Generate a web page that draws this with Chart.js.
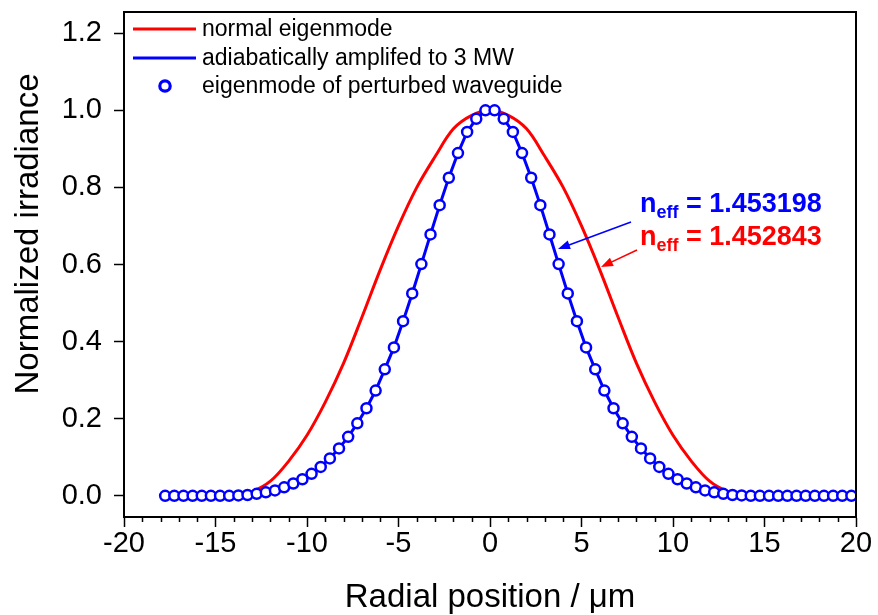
<!DOCTYPE html>
<html lang="en">
<head>
<meta charset="UTF-8">
<title>Mode profiles</title>
<style>
    html, body { margin: 0; padding: 0; background: #fff; }
    #wrap { width: 878px; height: 615px; }
</style>
</head>
<body>
<div id="wrap"><canvas id="myChart" width="878" height="615"></canvas></div>
<script src="https://cdn.jsdelivr.net/npm/chart.js"></script>
<script>
// normal eigenmode (red line)
const redX = [-18, -17, -16, -15, -14, -13, -12, -11, -10, -9, -8, -7, -6, -5, -4, -3, -2, -1, 0,
              1, 2, 3, 4, 5, 6, 7, 8, 9, 10, 11, 12, 13, 14, 15, 16, 17, 18, 19, 20];
const redY = [0, 0, 0, 0, 0, 0.011, 0.038, 0.09, 0.157, 0.243, 0.344, 0.463, 0.586, 0.70, 0.80, 0.88, 0.952, 0.987, 1.0,
              0.987, 0.952, 0.88, 0.80, 0.70, 0.586, 0.463, 0.344, 0.243, 0.157, 0.09, 0.038, 0.011, 0, 0, 0, 0, 0, 0, 0];

// amplified mode (blue line) and perturbed waveguide eigenmode (circles)
const blueX = [-17.75, -17.25, -16.75, -16.25, -15.75, -15.25, -14.75, -14.25, -13.75, -13.25,
               -12.75, -12.25, -11.75, -11.25, -10.75, -10.25, -9.75, -9.25, -8.75, -8.25,
               -7.75, -7.25, -6.75, -6.25, -5.75, -5.25, -4.75, -4.25, -3.75, -3.25,
               -2.75, -2.25, -1.75, -1.25, -0.75, -0.25, 0.25, 0.75, 1.25, 1.75,
               2.25, 2.75, 3.25, 3.75, 4.25, 4.75, 5.25, 5.75, 6.25, 6.75,
               7.25, 7.75, 8.25, 8.75, 9.25, 9.75, 10.25, 10.75, 11.25, 11.75,
               12.25, 12.75, 13.25, 13.75, 14.25, 14.75, 15.25, 15.75, 16.25, 16.75,
               17.25, 17.75, 18.25, 18.75, 19.25, 19.75];
const blueY = [0, 0, 0, 0, 0, 0, 0, 0, 0.001, 0.002,
               0.005, 0.009, 0.014, 0.022, 0.032, 0.043, 0.057, 0.075, 0.097, 0.123,
               0.153, 0.188, 0.227, 0.273, 0.328, 0.385, 0.453, 0.525, 0.601, 0.678,
               0.754, 0.825, 0.889, 0.944, 0.978, 1.0, 1.0, 0.978, 0.944, 0.889,
               0.825, 0.754, 0.678, 0.601, 0.525, 0.453, 0.385, 0.328, 0.273, 0.227,
               0.188, 0.153, 0.123, 0.097, 0.075, 0.057, 0.043, 0.032, 0.022, 0.014,
               0.009, 0.005, 0.002, 0.001, 0, 0, 0, 0, 0, 0,
               0, 0, 0, 0, 0, 0];

const xTicks = [-20, -15, -10, -5, 0, 5, 10, 15, 20];
const yTicks = [0, 0.2, 0.4, 0.6, 0.8, 1.0, 1.2];
const seriesNames = ['normal eigenmode', 'adiabatically amplifed to 3 MW', 'eigenmode of perturbed waveguide'];
const neffLabels = ['= 1.453198', '= 1.452843'];

const FONT = "Arial, 'Liberation Sans', sans-serif";
const RED = '#ff0000';
const BLUE = '#0000ff';

function pts(xs, ys) {
    return xs.map((x, i) => ({ x: x, y: ys[i] }));
}

function arrow(ctx, x1, y1, x2, y2, color) {
    const ang = Math.atan2(y2 - y1, x2 - x1);
    const len = 12, half = 4.5;
    ctx.strokeStyle = color;
    ctx.fillStyle = color;
    ctx.lineWidth = 1.6;
    ctx.beginPath();
    ctx.moveTo(x1, y1);
    ctx.lineTo(x2 - Math.cos(ang) * len * 0.8, y2 - Math.sin(ang) * len * 0.8);
    ctx.stroke();
    ctx.beginPath();
    ctx.moveTo(x2, y2);
    ctx.lineTo(x2 - Math.cos(ang) * len - Math.sin(ang) * half, y2 - Math.sin(ang) * len + Math.cos(ang) * half);
    ctx.lineTo(x2 - Math.cos(ang) * len + Math.sin(ang) * half, y2 - Math.sin(ang) * len - Math.cos(ang) * half);
    ctx.closePath();
    ctx.fill();
}

function neff(ctx, x, y, rest, color) {
    ctx.fillStyle = color;
    ctx.textBaseline = 'alphabetic';
    ctx.textAlign = 'left';
    ctx.font = 'bold 27px ' + FONT;
    ctx.fillText('n', x, y);
    x += ctx.measureText('n').width;
    ctx.font = 'bold 18px ' + FONT;
    ctx.fillText('eff', x, y + 6);
    x += ctx.measureText('eff').width;
    ctx.font = 'bold 27px ' + FONT;
    ctx.fillText(' ' + rest, x, y);
}

const overlay = {
    id: 'overlay',
    afterDraw(chart) {
        const ctx = chart.ctx;
        const a = chart.chartArea;
        const xs = chart.scales.x;
        ctx.save();

        // box
        ctx.strokeStyle = '#000';
        ctx.lineWidth = 2;
        ctx.strokeRect(a.left, a.top, a.right - a.left, a.bottom - a.top);

        // minor ticks on x
        ctx.lineWidth = 1.5;
        for (let v = -19; v <= 19; v++) {
            if (v % 5 === 0) continue;
            const px = Math.round(xs.getPixelForValue(v)) + 0.5;
            ctx.beginPath();
            ctx.moveTo(px, a.bottom);
            ctx.lineTo(px, a.bottom + 5);
            ctx.stroke();
        }

        // axis titles
        ctx.fillStyle = '#000';
        ctx.font = '33px ' + FONT;
        ctx.textAlign = 'center';
        ctx.textBaseline = 'alphabetic';
        ctx.fillText('Radial position / \u03bcm', 490, 607);
        ctx.save();
        ctx.translate(38, 234);
        ctx.rotate(-Math.PI / 2);
        ctx.fillText('Normalized irradiance', 0, 0);
        ctx.restore();

        // legend
        ctx.textAlign = 'left';
        ctx.textBaseline = 'middle';
        ctx.font = '23px ' + FONT;
        ctx.lineWidth = 3;
        ctx.strokeStyle = RED;
        ctx.beginPath(); ctx.moveTo(133, 29); ctx.lineTo(196, 29); ctx.stroke();
        ctx.strokeStyle = BLUE;
        ctx.beginPath(); ctx.moveTo(133, 58); ctx.lineTo(196, 58); ctx.stroke();
        ctx.lineWidth = 3.2;
        ctx.fillStyle = '#fff';
        ctx.beginPath(); ctx.arc(165, 86, 5.2, 0, Math.PI * 2); ctx.fill(); ctx.stroke();
        ctx.fillStyle = '#000';
        ctx.fillText(seriesNames[0], 202, 30);
        ctx.fillText(seriesNames[1], 202, 59);
        ctx.fillText(seriesNames[2], 202, 87);

        // n_eff labels and arrows
        neff(ctx, 640, 212, neffLabels[0], BLUE);
        neff(ctx, 640, 245, neffLabels[1], RED);
        arrow(ctx, 631, 222, 558, 249, BLUE);
        arrow(ctx, 637, 250, 601, 267, RED);

        ctx.restore();
    }
};

const ctx = document.getElementById('myChart').getContext('2d');
new Chart(ctx, {
    type: 'line',
    data: {
        datasets: [
            {
                label: seriesNames[1],
                data: pts(blueX, blueY),
                borderColor: BLUE,
                borderWidth: 3,
                pointRadius: 5,
                pointBorderWidth: 2.5,
                pointBorderColor: BLUE,
                pointBackgroundColor: '#fff',
                tension: 0,
                order: 0
            },
            {
                label: seriesNames[0],
                data: pts(redX, redY),
                borderColor: RED,
                borderWidth: 3,
                pointRadius: 0,
                tension: 0.35,
                order: 1
            }
        ]
    },
    options: {
        responsive: false,
        animation: false,
        devicePixelRatio: 1,
        layout: { padding: { left: 0, right: 22, top: 12, bottom: 0 } },
        plugins: {
            legend: { display: false },
            tooltip: { enabled: false }
        },
        scales: {
            x: {
                type: 'linear',
                min: -20,
                max: 20,
                afterBuildTicks: s => { s.ticks = xTicks.map(v => ({ value: v })); },
                afterFit: s => { s.height = 98; s.paddingLeft = 0; s.paddingRight = 0; },
                ticks: {
                    color: '#000',
                    font: { family: FONT, size: 29 },
                    padding: 0,
                    maxRotation: 0,
                    autoSkip: false,
                    callback: v => String(v)
                },
                grid: { drawOnChartArea: false, tickLength: 10, tickColor: '#000', tickWidth: 1.5 },
                border: { color: '#000', width: 2 }
            },
            y: {
                min: -0.055,
                max: 1.255,
                afterBuildTicks: s => { s.ticks = yTicks.map(v => ({ value: v })); },
                afterFit: s => { s.width = 124; s.paddingTop = 0; s.paddingBottom = 0; },
                ticks: {
                    color: '#000',
                    font: { family: FONT, size: 29 },
                    padding: 12,
                    autoSkip: false,
                    callback: v => v.toFixed(1)
                },
                grid: { drawOnChartArea: false, tickLength: 10, tickColor: '#000', tickWidth: 1.5 },
                border: { color: '#000', width: 2 }
            }
        }
    },
    plugins: [overlay]
});
</script>
</body>
</html>
